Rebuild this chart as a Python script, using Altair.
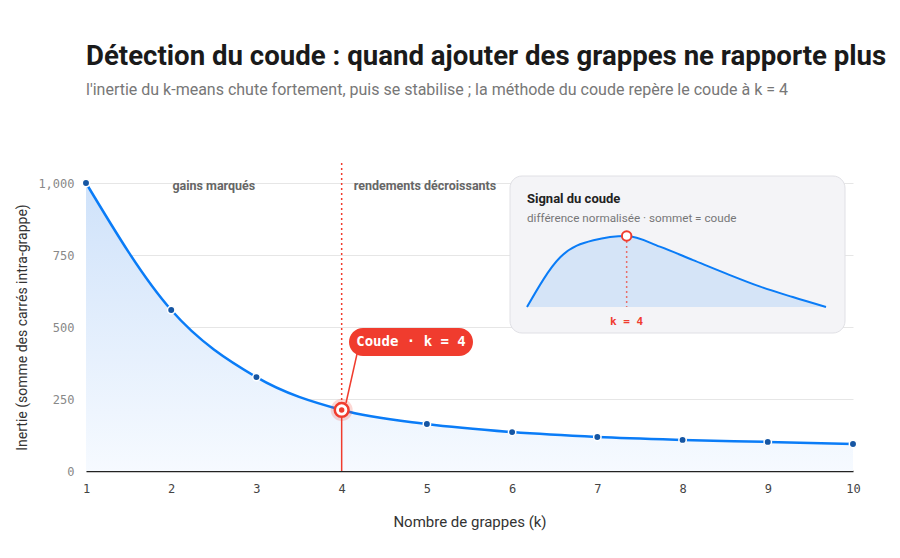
import altair as alt
import pandas as pd

# ---- data ----
k_values = [1, 2, 3, 4, 5, 6, 7, 8, 9, 10]
inertia = [1000, 559, 326, 212, 163, 135, 118, 108, 101, 94]
signal = [0, 0.70, 0.94, 1.0, 0.85, 0.66, 0.47, 0.29, 0.14, 0]
elbow_k = 4
y_ticks = [0, 250, 500, 750, 1000]
zone_labels = ["gains marqués", "rendements décroissants"]
zone_k = [2.5, 4]
callout_text = "Coude · k = 4"
inset_title = "Signal du coude"
inset_subtitle = "différence normalisée · sommet = coude"
inset_k_label = "k = 4"

BLUE = "#0a7cf7"
DOT = "#1656a3"
RED = "#f03c2e"
FONT = "Roboto"
MONO = "DejaVu Sans Mono"

df = pd.DataFrame({"k": k_values, "inertia": inertia, "signal": signal})
df["zero"] = 0
elbow_df = df[df["k"] == elbow_k].copy()
one = pd.DataFrame({"a": [0]})

x_enc = alt.X(
    "k:Q",
    scale=alt.Scale(domain=[1, 10], nice=False, zero=False),
    axis=alt.Axis(
        values=k_values, format="d", title="Nombre de grappes (k)", grid=False,
        ticks=False, labelPadding=12, titlePadding=20, domain=True, domainColor="#222",
        domainWidth=1.5, labelFlush=False, labelFont=MONO, labelFontSize=12, labelColor="#444",
        titleFont=FONT, titleFontSize=15, titleFontWeight="normal", titleColor="#333",
    ),
)
y_enc = alt.Y(
    "inertia:Q",
    scale=alt.Scale(domain=[0, 1000], nice=False),
    axis=alt.Axis(
        values=y_ticks, format=",d", title="Inertie (somme des carrés intra-grappe)",
        grid=True, gridColor="#e6e6e6", domain=False, ticks=False, labelPadding=12,
        titlePadding=8, labelFont=MONO, labelFontSize=12, labelColor="#888",
        titleFont=FONT, titleFontSize=14, titleFontWeight="normal", titleColor="#333",
    ),
)

base = alt.Chart(df).encode(x=x_enc, y=y_enc)

gradient = alt.Gradient(
    gradient="linear",
    stops=[alt.GradientStop(color="#cfe2fa", offset=0),
           alt.GradientStop(color="#f6faff", offset=1)],
    x1=1, x2=1, y1=0, y2=1,
)
area = base.mark_area(interpolate="monotone", color=gradient)
line = base.mark_line(interpolate="monotone", color=BLUE, strokeWidth=2.5)
points = base.transform_filter(alt.datum.k != elbow_k).mark_circle(
    size=55, color=DOT, opacity=1, stroke="white", strokeWidth=1.5
)

elbow_base = alt.Chart(elbow_df)
rule_below = elbow_base.mark_rule(color=RED, strokeWidth=1.5).encode(
    x=x_enc, y=y_enc, y2="zero:Q"
)
rule_above = elbow_base.mark_rule(color=RED, strokeWidth=1.5, strokeDash=[2, 3]).encode(
    x=x_enc, y=y_enc, y2=alt.value(-20)
)
halo = elbow_base.mark_circle(size=480, color=RED, opacity=0.2).encode(x=x_enc, y=y_enc)
ring = elbow_base.mark_point(size=190, filled=True, fill="white", stroke=RED,
                             strokeWidth=2.5, opacity=1).encode(x=x_enc, y=y_enc)
center = elbow_base.mark_circle(size=30, color=RED, opacity=1).encode(x=x_enc, y=y_enc)

zones_df = pd.DataFrame({"k": zone_k, "label": zone_labels})
zone_left = alt.Chart(zones_df.iloc[[0]]).mark_text(
    font=FONT, fontSize=12.5, fontWeight="bold", color="#666", align="center", baseline="middle"
).encode(x=x_enc, y=alt.value(3), text="label:N")
zone_right = alt.Chart(zones_df.iloc[[1]]).mark_text(
    font=FONT, fontSize=12.5, fontWeight="bold", color="#666", align="left", baseline="middle", dx=12
).encode(x=x_enc, y=alt.value(3), text="label:N")

# callout
leader = alt.Chart(one).mark_rule(color=RED, strokeWidth=1.5).encode(
    x=alt.value(271), x2=alt.value(260), y=alt.value(171), y2=alt.value(220)
)
callout_box = alt.Chart(one).mark_rect(color=RED, cornerRadius=14).encode(
    x=alt.value(263), x2=alt.value(387), y=alt.value(145), y2=alt.value(173)
)
callout_label = alt.Chart(pd.DataFrame({"t": [callout_text]})).mark_text(
    font=MONO, fontSize=14, fontWeight="bold", color="white", align="center", baseline="middle"
).encode(x=alt.value(325), y=alt.value(159), text="t:N")

# inset panel (pixel-positioned, no scales)
panel = alt.Chart(one).mark_rect(fill="#f4f4f7", stroke="#e0e0e5", strokeWidth=1,
                                 cornerRadius=12).encode(
    x=alt.value(424), x2=alt.value(759), y=alt.value(-7), y2=alt.value(150)
)
i_title = alt.Chart(pd.DataFrame({"t": [inset_title]})).mark_text(
    font=FONT, fontSize=13, fontWeight="bold", color="#222", align="left", baseline="middle"
).encode(x=alt.value(441), y=alt.value(16), text="t:N")
i_sub = alt.Chart(pd.DataFrame({"t": [inset_subtitle]})).mark_text(
    font=FONT, fontSize=11.7, color="#777", align="left", baseline="middle"
).encode(x=alt.value(441), y=alt.value(35), text="t:N")

main = alt.layer(area, line, points, rule_below, rule_above, halo, ring, center,
                 zone_left, zone_right, leader, callout_box, callout_label,
                 panel, i_title, i_sub)

# ---- inset data layers (own scales) ----
ix = alt.X("k:Q", scale=alt.Scale(domain=[1, 10], range=[441, 740], nice=False, zero=False), axis=None)
iy = alt.Y("signal:Q", scale=alt.Scale(domain=[0, 1], range=[124, 53], nice=False), axis=None)
ibase = alt.Chart(df).encode(x=ix, y=iy)
i_area = ibase.mark_area(interpolate="monotone", color="#d5e4f7")
i_line = ibase.mark_line(interpolate="monotone", color=BLUE, strokeWidth=2)
i_rule = alt.Chart(elbow_df).mark_rule(color=RED, strokeWidth=1.5, strokeDash=[2, 3], opacity=0.7).encode(
    x=ix, y=iy, y2="zero:Q"
)
i_peak = alt.Chart(elbow_df).mark_point(size=90, filled=True, fill="white", stroke=RED,
                                        strokeWidth=2, opacity=1).encode(x=ix, y=iy)
i_klabel = alt.Chart(elbow_df.assign(t=inset_k_label)).mark_text(
    font=MONO, fontSize=11, fontWeight="bold", color=RED, align="center", baseline="middle"
).encode(x=ix, y=alt.value(139), text="t:N")

inset = alt.layer(i_area, i_line, i_rule, i_peak, i_klabel)

chart = alt.layer(main, inset).resolve_scale(x="independent", y="independent").properties(
    width=767, height=288,
    background="white",
    autosize=alt.AutoSizeParams(type="none"),
    padding={"left": 78, "top": 175, "right": 39, "bottom": 79},
    title=alt.TitleParams(
        text="Détection du coude : quand ajouter des grappes ne rapporte plus",
        subtitle="l'inertie du k-means chute fortement, puis se stabilise ; la méthode du coude repère le coude à k = 4",
        anchor="start", frame="group", offset=64,
        font=FONT, fontSize=27.6, fontWeight="bold", color="#1a1a1a",
        subtitleFont=FONT, subtitleFontSize=16, subtitleColor="#777", subtitlePadding=12,
    ),
).configure_view(stroke="transparent", strokeWidth=0).configure_axisX(
    grid=False
).configure_axisRight(
    domain=False, grid=False, labels=False, ticks=False
).configure_axisTop(
    domain=False, grid=False, labels=False, ticks=False
)

chart.save("out.html", embed_options={"renderer": "svg", "actions": False})
